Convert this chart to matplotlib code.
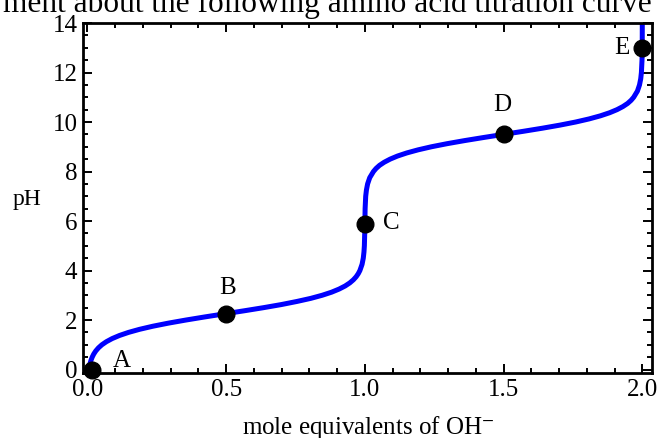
import matplotlib
matplotlib.use("Agg")
import matplotlib.pyplot as plt
from matplotlib.ticker import MultipleLocator

# Curve: pH values and the mole equivalents of OH- at each
ph_values = [-0.2, 0.0, 0.1, 0.25, 0.375, 0.5, 0.625, 0.75, 0.875, 1.0, 1.125, 1.25,
             1.375, 1.5, 1.625, 1.75, 1.875, 2.0, 2.125, 2.26, 2.375, 2.5, 2.625,
             2.75, 2.875, 3.0, 3.125, 3.25, 3.375, 3.5, 3.625, 3.75, 3.875, 4.0,
             4.25, 4.5, 4.75, 5.0, 5.5, 5.88, 6.0, 6.5, 7.0, 7.25, 7.5, 7.75, 8.0,
             8.125, 8.25, 8.375, 8.5, 8.625, 8.75, 8.875, 9.0, 9.125, 9.25, 9.375,
             9.5, 9.625, 9.75, 9.875, 10.0, 10.125, 10.25, 10.375, 10.5, 10.625,
             10.75, 10.875, 11.0, 11.25, 11.5, 11.75, 12.0, 12.5, 13.0, 13.5, 14.0,
             14.3]
equivalents = [0.0035, 0.0055, 0.0069, 0.0097, 0.0129, 0.0171, 0.0227, 0.030, 0.0396,
               0.052, 0.0683, 0.089, 0.1153, 0.148, 0.188, 0.236, 0.292, 0.355,
               0.423, 0.500, 0.566, 0.635, 0.699, 0.755, 0.805, 0.846, 0.880, 0.907,
               0.9288, 0.9456, 0.9586, 0.9687, 0.9763, 0.9821, 0.9899, 0.9943,
               0.99677, 0.9982, 0.99942, 1.000, 1.00015, 1.0009, 1.003, 1.0056,
               1.0099, 1.0175, 1.031, 1.0405, 1.053, 1.0698, 1.091, 1.1176, 1.151,
               1.1917, 1.240, 1.2966, 1.360, 1.4285, 1.500, 1.5714, 1.640, 1.7034,
               1.760, 1.8083, 1.849, 1.8823, 1.909, 1.9302, 1.947, 1.9595, 1.969,
               1.9825, 1.990, 1.9944, 1.9968, 1.999, 1.9997, 1.9999, 2.000, 2.000]

point_labels = ["A", "B", "C", "D", "E"]
point_x = [0.015, 0.5, 1.0, 1.5, 2.0]
point_ph = [0.0, 2.24, 5.88, 9.5, 13.0]

x_ticks = [0.0, 0.5, 1.0, 1.5, 2.0]
x_tick_labels = ["0.0", "0.5", "1.0", "1.5", "2.0"]
y_ticks = [0, 2, 4, 6, 8, 10, 12, 14]

title_text = "ment about the following amino acid titration curve"
x_label = r"mole equivalents of OH$^{-}$"
y_label = "pH"

plt.rcParams["font.family"] = ["Liberation Serif", "DejaVu Serif"]
plt.rcParams["mathtext.fontset"] = "stix"

W, H = 659, 438
fig = plt.figure(figsize=(W / 100, H / 100), dpi=100)
ax = fig.add_axes([83 / W, 1 - 373 / H, (652 - 83) / W, (373 - 23) / H])

ax.plot(equivalents, ph_values, color="#0000ff", lw=3.6, solid_joinstyle="round",
        solid_capstyle="butt", zorder=2)
ax.plot(point_x, point_ph, "o", color="black", ms=12, zorder=3, clip_on=False)

# label offsets (points) relative to each dot
offsets = [(22, 6), (1, 19), (19, 1), (-1, 21), (-15, 0)]
for lab, px, py, off in zip(point_labels, point_x, point_ph, offsets):
    ax.annotate(lab, (px, py), xytext=off, textcoords="offset points",
                ha="center", va="center", fontsize=18)

ax.set_xlim(-0.016, 2.035)
ax.set_ylim(-0.14, 14.0)

ax.set_xticks(x_ticks)
ax.set_xticklabels(x_tick_labels)
ax.set_yticks(y_ticks)
ax.xaxis.set_minor_locator(MultipleLocator(0.1))
ax.yaxis.set_minor_locator(MultipleLocator(0.5))
ax.tick_params(which="both", direction="in", top=True, right=True, width=1.4,
               labelsize=18, pad=4)
ax.tick_params(which="major", length=6.5)
ax.tick_params(which="minor", length=3.5)
for s in ax.spines.values():
    s.set_linewidth(2.0)

fig.text(27 / W, 1 - 200 / H, y_label, ha="center", va="center", fontsize=17)
fig.text(368 / W, 1 - 434 / H, x_label, ha="center", va="baseline", fontsize=18)
fig.text(652 / W, 1 - 12 / H, title_text, ha="right", va="baseline", fontsize=22.6)

fig.savefig("out.png", dpi=100)
